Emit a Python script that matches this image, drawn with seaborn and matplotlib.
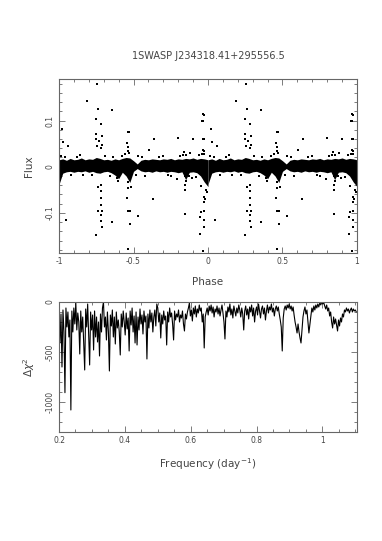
import numpy as np
import pandas as pd
import matplotlib
matplotlib.use("Agg")
import matplotlib.pyplot as plt
import seaborn as sns
from matplotlib.ticker import MultipleLocator

# --- folded light curve: dense band envelope (phase in [-1, 0], shown again at +1)
band_phase = [-1.000, -0.975, -0.950, -0.925, -0.900, -0.875, -0.850, -0.825, -0.800, -0.775,
              -0.750, -0.725, -0.700, -0.675, -0.650, -0.625, -0.600, -0.575, -0.550, -0.525,
              -0.500, -0.475, -0.450, -0.425, -0.400, -0.375, -0.350, -0.325, -0.300, -0.275,
              -0.250, -0.225, -0.200, -0.175, -0.150, -0.125, -0.100, -0.075, -0.050, -0.025, 0.000]
band_hi = [0.015, 0.017, 0.014, 0.018, 0.015, 0.016, 0.019, 0.015, 0.017, 0.016,
           0.020, 0.018, 0.015, 0.016, 0.014, 0.017, 0.015, 0.018, 0.020, 0.019,
           0.013, 0.006, 0.014, 0.016, 0.015, 0.017, 0.016, 0.015, 0.017, 0.016,
           0.018, 0.015, 0.017, 0.016, 0.018, 0.017, 0.019, 0.016, 0.018, 0.017, 0.015]
band_lo = [-0.038, -0.014, -0.011, -0.010, -0.012, -0.010, -0.011, -0.009, -0.012, -0.010,
           -0.013, -0.014, -0.011, -0.010, -0.013, -0.018, -0.026, -0.012, -0.020, -0.034,
           -0.010, -0.004, -0.009, -0.011, -0.010, -0.012, -0.009, -0.011, -0.010, -0.012,
           -0.010, -0.011, -0.013, -0.011, -0.028, -0.012, -0.011, -0.013, -0.020, -0.033, -0.043]

# --- scattered points away from the band
out_phase = [-0.747, -0.814, -0.740, -0.646, -0.752, -0.718, -0.980, -0.752, -0.711, -0.535,
             -0.527, -0.544, -0.539, -0.975, -0.942, -0.750, -0.730, -0.745, -0.720, -0.710,
             -0.360, -0.394, -0.472, -0.540, -0.530, -0.989, -0.036, -0.030, -0.034, -0.040,
             -0.204, -0.099, -0.035, -0.025, -0.159, -0.145, -0.120, -0.035, -0.025, -0.040,
             -0.025, -0.718, -0.738, -0.718, -0.718, -0.718, -0.546, -0.371, -0.740, -0.735,
             -0.713, -0.535, -0.525, -0.472, -0.953, -0.718, -0.715, -0.711, -0.644, -0.521,
             -0.752, -0.539, -0.031, -0.157, -0.052, -0.048, -0.030, -0.030, -0.025, -0.054,
             -0.027, -0.022, -0.030, -0.047, -0.154, -0.150, -0.152, -0.153, -0.210, -0.110,
             -0.610, -0.420, -0.540, -0.538, -0.605, -0.300, -0.860, -0.080, -0.170, -0.250,
             -0.920, -0.880, -0.780, -0.690, -0.660, -0.580, -0.480, -0.330, -0.270, -0.190,
             -0.130, -0.060, -0.015, -0.008, -0.560, -0.520, -0.640, -0.960, -0.840, -0.440]
out_flux = [0.180, 0.142, 0.126, 0.122, 0.103, 0.093, 0.081, 0.070, 0.067, 0.075,
            0.075, 0.052, 0.043, 0.054, 0.045, 0.060, 0.055, 0.045, 0.040, 0.048,
            0.060, 0.037, 0.024, 0.035, 0.030, 0.024, 0.115, 0.112, 0.099, 0.099,
            0.062, 0.060, 0.060, 0.060, 0.031, 0.025, 0.030, 0.037, 0.035, 0.028,
            0.027, -0.039, -0.045, -0.053, -0.068, -0.082, -0.067, -0.070, -0.095, -0.097,
            -0.095, -0.095, -0.097, -0.107, -0.115, -0.105, -0.118, -0.130, -0.120, -0.125,
            -0.148, -0.179, -0.182, -0.102, -0.109, -0.098, -0.097, -0.115, -0.131, -0.145,
            -0.065, -0.070, -0.076, -0.041, -0.020, -0.030, -0.040, -0.050, -0.027, -0.025,
            -0.024, -0.020, -0.033, -0.047, -0.030, 0.024, 0.025, -0.022, 0.026, -0.021,
            -0.018, 0.022, -0.019, 0.023, -0.020, 0.024, -0.018, 0.022, -0.019, 0.023,
            -0.020, 0.025, -0.050, -0.055, 0.027, -0.045, 0.021, 0.022, -0.017, 0.020]

# --- periodogram, 0.200 .. 1.103 day^-1 in steps of 0.003
dchi2 = [
    -150, -410, -120, -650, -80, -300, -907, -60, -250, -100, -350, -180, -1080, -90, -300, -60, -220, -10, -280, -110,
    -200, -520, -90, -300, -150, -420, -680, -70, -250, -20, -330, -630, -100, -280, -130, -480, -90, -350, -150, -400,
    -200, -540, -120, -300, -60, 0, -250, -150, -380, -100, -300, -690, -130, -240, -80, -350, -150, -420, -100, -260,
    -180, -300, -530, -120, -250, -90, -200, -330, -110, -270, -160, -490, -90, -230, -60, -300, -140, -410, -100, -430,
    -150, -280, -70, -220, -130, -320, -90, -200, -140, -570, -120, -260, -80, -200, -110, -300, -150, -80, -240, -20,
    -60, -200, -110, -360, -130, -220, -90, -180, -140, -430, -100, -200, -60, -150, -110, -220, -380, -90, -180, -120,
    -150, -80, -200, -130, -160, -90, -220, -290, -120, -170, -100, -60, -10, -140, -80, -190, -60, -120, -40, -150,
    -70, -110, -30, -90, -60, -200, -120, -460, -150, -100, -60, -130, -40, -90, -30, -110, -50, -150, -70, -100,
    -40, -120, -60, -140, -80, -30, -110, -200, -370, -90, -150, -50, -100, -20, -130, -70, -160, -40, -90, -140,
    -60, -110, -30, -80, -150, -60, -120, -280, -90, -40, -130, -70, -170, -50, -100, -30, -140, -60, -200, -90,
    -50, -130, -20, -90, -160, -70, -40, -120, -60, -180, -90, -30, -110, -50, -80, -20, -100, -60, -140, -70,
    -40, -90, -50, -120, -180, -250, -490, -160, -70, -40, -80, -30, -60, -20, -70, -40, -90, -50, -130, -200,
    -250, -310, -220, -300, -360, -410, -280, -150, -90, -50, -120, -80, -200, -310, -220, -140, -60, -100, -40, -80,
    -30, -60, -20, -50, -10, -30, 0, -20, -5, -40, -70, -30, -90, -60, -140, -100, -200, -260, -150, -220,
    -170, -230, -290, -180, -240, -160, -200, -120, -150, -80, -100, -60, -90, -70, -110, -80, -60, -100, -70, -90,
    -80, -100,
]
freq = np.linspace(0.200, 1.103, len(dchi2))

title = "1SWASP J234318.41+295556.5"

sns.set_style("ticks")
plt.rcParams['font.family'] = ['DejaVu Sans']
txt = '#444444'
spine = '#666666'

fig = plt.figure(figsize=(3.82, 5.41), dpi=100)
ax1 = fig.add_axes([0.1545, 0.5323, 0.780, 0.3216])
ax2 = fig.add_axes([0.1545, 0.2015, 0.780, 0.2403])

# light curve: band + scattered points, plotted at phase and phase+1
bp = np.array(band_phase)
for shift in (0.0, 1.0):
    ax1.fill_between(bp + shift, band_lo, band_hi, color='black', linewidth=0)
pts = pd.DataFrame({'phase': np.concatenate([np.array(out_phase), np.array(out_phase) + 1.0]),
                    'flux': out_flux * 2})
sns.scatterplot(data=pts, x='phase', y='flux', ax=ax1, color='black', marker='s', s=4,
                linewidth=0, legend=False)
ax1.set_xlim(-1, 1)
ax1.set_ylim(-0.187, 0.19)
ax1.xaxis.set_minor_locator(MultipleLocator(0.1))
ax1.yaxis.set_minor_locator(MultipleLocator(0.02))
ax1.set_xticks([-1, -0.5, 0, 0.5, 1])
ax1.set_xticklabels(['-1', '-0.5', '0', '0.5', '1'])
ax1.set_yticks([-0.1, 0, 0.1])
ax1.set_yticklabels(['-0.1', '0', '0.1'])
ax1.set_xlabel('Phase', fontsize=7.5, color=txt)
ax1.set_ylabel('Flux', fontsize=7.5, color=txt)
ax1.xaxis.set_label_coords(0.5, -0.14)
ax1.yaxis.set_label_coords(-0.085, 0.5)

# periodogram
pg = pd.DataFrame({'freq': freq, 'dchi2': dchi2})
ax2.axhline(0, color='#aaaaaa', linewidth=1.2, zorder=0)
sns.lineplot(data=pg, x='freq', y='dchi2', ax=ax2, color='black', linewidth=0.8)
ax2.set_xlim(0.2, 1.105)
ax2.set_ylim(-1300, 0)
ax2.xaxis.set_minor_locator(MultipleLocator(0.05))
ax2.yaxis.set_minor_locator(MultipleLocator(100))
ax2.set_xticks([0.2, 0.4, 0.6, 0.8, 1.0])
ax2.set_xticklabels(['0.2', '0.4', '0.6', '0.8', '1'])
ax2.set_yticks([-1000, -500, 0])
ax2.set_yticklabels(['-1000', '-500', '0'])
ax2.set_xlabel('Frequency (day$^{-1}$)', fontsize=7.5, color=txt)
ax2.set_ylabel(r'$\Delta\chi^2$', fontsize=7.5, color=txt)
ax2.xaxis.set_label_coords(0.5, -0.19)
ax2.yaxis.set_label_coords(-0.075, 0.5)

for ax in (ax1, ax2):
    for s in ax.spines.values():
        s.set_visible(True)
        s.set_color(spine)
        s.set_linewidth(0.8)
    ax.tick_params(which='both', direction='in', top=True, right=True, color=spine,
                   labelsize=5.5, labelcolor=txt, pad=3)
    ax.tick_params(which='major', length=4, width=0.6)
    ax.tick_params(which='minor', length=2, width=0.6)
    plt.setp(ax.get_yticklabels(), rotation=90, va='center')

fig.text(0.5445, 0.8965, title, ha='center', va='center', fontsize=7, color=txt)

fig.savefig('out.png', dpi=100, facecolor='white')
